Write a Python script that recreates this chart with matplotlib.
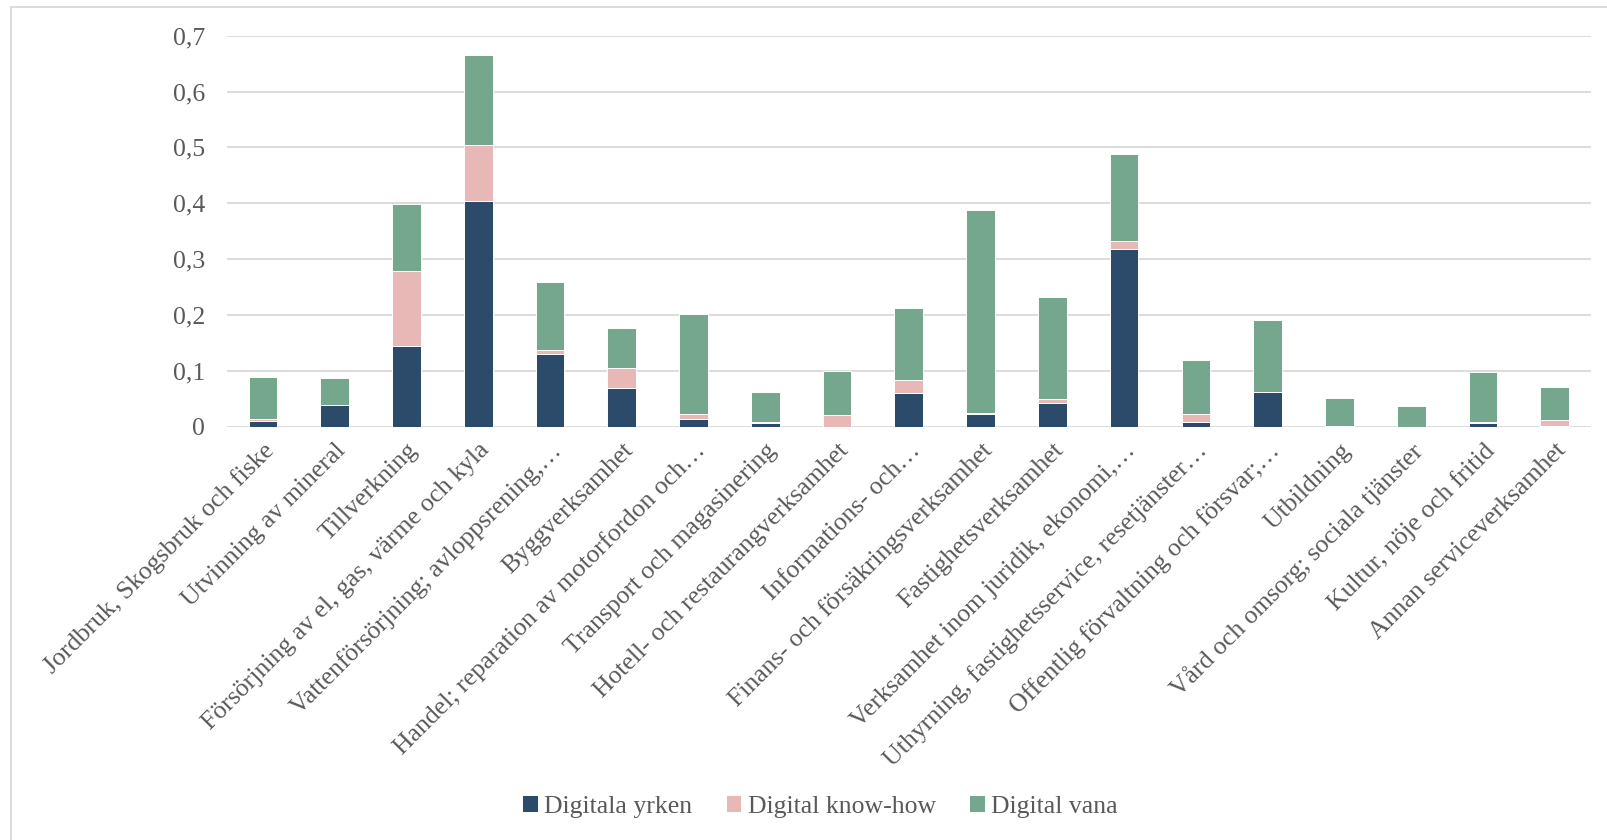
import matplotlib
matplotlib.use("Agg")
import matplotlib.pyplot as plt
from matplotlib.patches import Rectangle
from matplotlib.ticker import FuncFormatter

categories = [
    "Jordbruk, Skogsbruk och fiske",
    "Utvinning av mineral",
    "Tillverkning",
    "Försörjning av el, gas, värme och kyla",
    "Vattenförsörjning; avloppsrening,…",
    "Byggverksamhet",
    "Handel; reparation av motorfordon och…",
    "Transport och magasinering",
    "Hotell- och restaurangverksamhet",
    "Informations- och…",
    "Finans- och försäkringsverksamhet",
    "Fastighetsverksamhet",
    "Verksamhet inom juridik, ekonomi,…",
    "Uthyrning, fastighetsservice, resetjänster…",
    "Offentlig förvaltning och försvar;…",
    "Utbildning",
    "Vård och omsorg; sociala tjänster",
    "Kultur, nöje och fritid",
    "Annan serviceverksamhet",
]

digitala_yrken = [0.011, 0.038, 0.144, 0.404, 0.131, 0.070, 0.013, 0.007, 0.0,
                  0.060, 0.023, 0.043, 0.319, 0.008, 0.063, 0.0, 0.0, 0.006, 0.0005]
digital_know_how = [0.003, 0.0, 0.135, 0.100, 0.006, 0.036, 0.010, 0.001, 0.021,
                    0.023, 0.002, 0.0065, 0.014, 0.014, 0.0, 0.001, 0.0, 0.0024, 0.011]
digital_vana = [0.075, 0.050, 0.120, 0.162, 0.122, 0.071, 0.179, 0.054, 0.078,
                0.130, 0.363, 0.182, 0.156, 0.097, 0.128, 0.050, 0.037, 0.089, 0.060]

series = [
    ("Digitala yrken", digitala_yrken, "#2c4a69"),
    ("Digital know-how", digital_know_how, "#e8b8b7"),
    ("Digital vana", digital_vana, "#74a78e"),
]

TEXT = "#595959"
FS = 18.5
plt.rcParams["font.family"] = ["Liberation Serif", "DejaVu Serif"]

fig = plt.figure(figsize=(16.08, 8.4), dpi=100)
ax = fig.add_axes([0.1412, 0.492, 0.8480, 0.4655])

# light frame around the chart area
fig.patches.append(Rectangle((11 / 1608, -0.05), 1.2, 1 - 7 / 840 + 0.05,
                             transform=fig.transFigure, fill=False,
                             edgecolor="#d9d9d9", lw=1.3))

x = list(range(len(categories)))
bottom = [0.0] * len(categories)
for name, vals, color in series:
    ax.bar(x, vals, 0.4, bottom=bottom, color=color, label=name,
           edgecolor="white", linewidth=0.7, zorder=3)
    bottom = [b + v for b, v in zip(bottom, vals)]

ax.set_xlim(-0.5, len(categories) - 0.5)
ax.set_ylim(0, 0.7)
ax.set_yticks([i / 10 for i in range(8)])
ax.yaxis.set_major_formatter(FuncFormatter(
    lambda v, _: "0" if abs(v) < 1e-9 else f"{v:.1f}".replace(".", ",")))
ax.grid(axis="y", color="#d9d9d9", lw=1.3, zorder=0)
for s in ax.spines.values():
    s.set_visible(False)
ax.tick_params(axis="both", length=0, colors=TEXT, labelsize=FS)
ax.tick_params(axis="y", pad=16)

ax.set_xticks(x)
ax.set_xticklabels(categories, rotation=45, ha="right", va="top",
                   rotation_mode="anchor", color=TEXT, fontsize=FS)
ax.tick_params(axis="x", pad=9)

leg = fig.legend(loc="center", bbox_to_anchor=(0.51, 0.04), ncol=3,
                 frameon=False, fontsize=FS, handlelength=0.6,
                 handleheight=0.6, handletextpad=0.25, columnspacing=1.3)
for t in leg.get_texts():
    t.set_color(TEXT)

fig.savefig("out.png", dpi=100)
